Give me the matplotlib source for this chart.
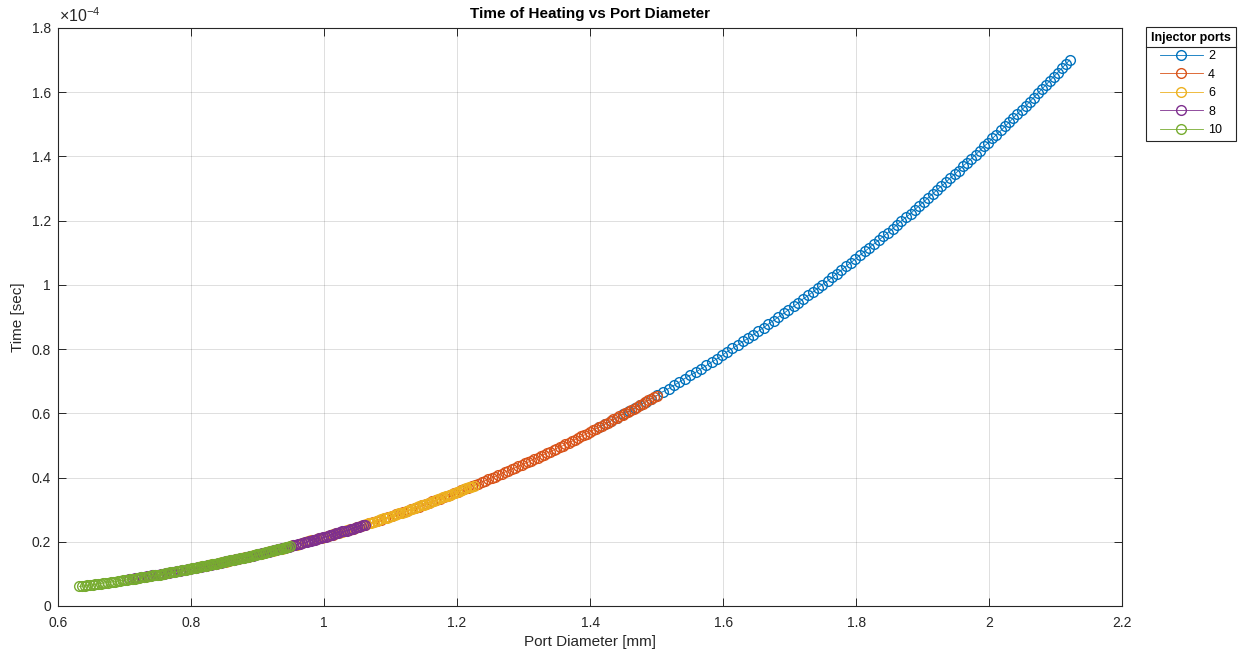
import matplotlib
matplotlib.use('Agg')
import matplotlib.pyplot as plt
from matplotlib.lines import Line2D
from matplotlib.ticker import FuncFormatter

# port diameter [mm] and time of heating [sec x 1e-4] for each number of injector ports
ports = [2, 4, 6, 8, 10]

d_2 = [1.414, 1.423, 1.432, 1.441, 1.449, 1.458, 1.467, 1.475, 1.484, 1.492, 1.501, 1.509, 1.518, 1.526, 1.534, 1.542, 1.550, 1.559, 1.567, 1.575,
       1.583, 1.591, 1.599, 1.606, 1.614, 1.622, 1.630, 1.638, 1.645, 1.653, 1.661, 1.668, 1.676, 1.683, 1.691, 1.698, 1.706, 1.713, 1.720, 1.728,
       1.735, 1.742, 1.749, 1.757, 1.764, 1.771, 1.778, 1.785, 1.792, 1.799, 1.806, 1.813, 1.820, 1.827, 1.834, 1.841, 1.848, 1.855, 1.861, 1.868,
       1.875, 1.882, 1.888, 1.895, 1.902, 1.908, 1.915, 1.921, 1.928, 1.935, 1.941, 1.948, 1.954, 1.960, 1.967, 1.973, 1.980, 1.986, 1.992, 1.999,
       2.005, 2.011, 2.018, 2.024, 2.030, 2.036, 2.042, 2.049, 2.055, 2.061, 2.067, 2.073, 2.079, 2.085, 2.091, 2.097, 2.103, 2.109, 2.115, 2.121]
t_2 = [0.557, 0.567, 0.577, 0.587, 0.597, 0.606, 0.616, 0.626, 0.636, 0.646, 0.656, 0.667, 0.677, 0.687, 0.697, 0.708, 0.718, 0.728, 0.739, 0.749,
       0.760, 0.770, 0.781, 0.792, 0.802, 0.813, 0.824, 0.834, 0.845, 0.856, 0.867, 0.878, 0.889, 0.900, 0.911, 0.922, 0.933, 0.944, 0.956, 0.967,
       0.978, 0.989, 1.001, 1.012, 1.023, 1.035, 1.046, 1.058, 1.069, 1.081, 1.093, 1.104, 1.116, 1.128, 1.139, 1.151, 1.163, 1.175, 1.187, 1.199,
       1.211, 1.222, 1.234, 1.247, 1.259, 1.271, 1.283, 1.295, 1.307, 1.319, 1.332, 1.344, 1.356, 1.369, 1.381, 1.393, 1.406, 1.418, 1.431, 1.443,
       1.456, 1.468, 1.481, 1.494, 1.506, 1.519, 1.532, 1.545, 1.557, 1.570, 1.583, 1.596, 1.609, 1.622, 1.635, 1.648, 1.661, 1.674, 1.687, 1.700]

d_4 = [1.000, 1.006, 1.013, 1.019, 1.025, 1.031, 1.037, 1.043, 1.049, 1.055, 1.061, 1.067, 1.073, 1.079, 1.085, 1.091, 1.096, 1.102, 1.108, 1.114,
       1.119, 1.125, 1.130, 1.136, 1.142, 1.147, 1.153, 1.158, 1.163, 1.169, 1.174, 1.180, 1.185, 1.190, 1.196, 1.201, 1.206, 1.211, 1.216, 1.222,
       1.227, 1.232, 1.237, 1.242, 1.247, 1.252, 1.257, 1.262, 1.267, 1.272, 1.277, 1.282, 1.287, 1.292, 1.297, 1.302, 1.307, 1.311, 1.316, 1.321,
       1.326, 1.330, 1.335, 1.340, 1.345, 1.349, 1.354, 1.359, 1.363, 1.368, 1.373, 1.377, 1.382, 1.386, 1.391, 1.395, 1.400, 1.404, 1.409, 1.413,
       1.418, 1.422, 1.427, 1.431, 1.435, 1.440, 1.444, 1.449, 1.453, 1.457, 1.462, 1.466, 1.470, 1.475, 1.479, 1.483, 1.487, 1.492, 1.496, 1.500]
t_4 = [0.215, 0.219, 0.222, 0.226, 0.230, 0.234, 0.238, 0.241, 0.245, 0.249, 0.253, 0.257, 0.261, 0.265, 0.269, 0.273, 0.277, 0.281, 0.285, 0.289,
       0.293, 0.297, 0.301, 0.305, 0.309, 0.313, 0.318, 0.322, 0.326, 0.330, 0.334, 0.338, 0.343, 0.347, 0.351, 0.355, 0.360, 0.364, 0.368, 0.373,
       0.377, 0.381, 0.386, 0.390, 0.395, 0.399, 0.403, 0.408, 0.412, 0.417, 0.421, 0.426, 0.430, 0.435, 0.439, 0.444, 0.448, 0.453, 0.458, 0.462,
       0.467, 0.471, 0.476, 0.481, 0.485, 0.490, 0.495, 0.499, 0.504, 0.509, 0.513, 0.518, 0.523, 0.528, 0.532, 0.537, 0.542, 0.547, 0.552, 0.556,
       0.561, 0.566, 0.571, 0.576, 0.581, 0.586, 0.591, 0.596, 0.600, 0.605, 0.610, 0.615, 0.620, 0.625, 0.630, 0.635, 0.640, 0.645, 0.650, 0.655]

d_6 = [0.816, 0.822, 0.827, 0.832, 0.837, 0.842, 0.847, 0.852, 0.857, 0.862, 0.867, 0.871, 0.876, 0.881, 0.886, 0.890, 0.895, 0.900, 0.905, 0.909,
       0.914, 0.918, 0.923, 0.928, 0.932, 0.937, 0.941, 0.945, 0.950, 0.954, 0.959, 0.963, 0.967, 0.972, 0.976, 0.980, 0.985, 0.989, 0.993, 0.997,
       1.002, 1.006, 1.010, 1.014, 1.018, 1.022, 1.027, 1.031, 1.035, 1.039, 1.043, 1.047, 1.051, 1.055, 1.059, 1.063, 1.067, 1.071, 1.075, 1.079,
       1.082, 1.086, 1.090, 1.094, 1.098, 1.102, 1.106, 1.109, 1.113, 1.117, 1.121, 1.124, 1.128, 1.132, 1.136, 1.139, 1.143, 1.147, 1.150, 1.154,
       1.158, 1.161, 1.165, 1.168, 1.172, 1.176, 1.179, 1.183, 1.186, 1.190, 1.193, 1.197, 1.200, 1.204, 1.207, 1.211, 1.214, 1.218, 1.221, 1.225]
t_6 = [0.123, 0.125, 0.127, 0.130, 0.132, 0.134, 0.136, 0.138, 0.140, 0.143, 0.145, 0.147, 0.149, 0.152, 0.154, 0.156, 0.159, 0.161, 0.163, 0.165,
       0.168, 0.170, 0.172, 0.175, 0.177, 0.179, 0.182, 0.184, 0.187, 0.189, 0.191, 0.194, 0.196, 0.199, 0.201, 0.204, 0.206, 0.208, 0.211, 0.213,
       0.216, 0.218, 0.221, 0.223, 0.226, 0.228, 0.231, 0.234, 0.236, 0.239, 0.241, 0.244, 0.246, 0.249, 0.252, 0.254, 0.257, 0.259, 0.262, 0.265,
       0.267, 0.270, 0.273, 0.275, 0.278, 0.281, 0.283, 0.286, 0.289, 0.291, 0.294, 0.297, 0.299, 0.302, 0.305, 0.308, 0.310, 0.313, 0.316, 0.319,
       0.321, 0.324, 0.327, 0.330, 0.333, 0.335, 0.338, 0.341, 0.344, 0.347, 0.350, 0.352, 0.355, 0.358, 0.361, 0.364, 0.367, 0.370, 0.372, 0.375]

d_8 = [0.707, 0.712, 0.716, 0.720, 0.725, 0.729, 0.733, 0.738, 0.742, 0.746, 0.750, 0.755, 0.759, 0.763, 0.767, 0.771, 0.775, 0.779, 0.783, 0.787,
       0.791, 0.795, 0.799, 0.803, 0.807, 0.811, 0.815, 0.819, 0.823, 0.826, 0.830, 0.834, 0.838, 0.842, 0.845, 0.849, 0.853, 0.856, 0.860, 0.864,
       0.867, 0.871, 0.875, 0.878, 0.882, 0.885, 0.889, 0.893, 0.896, 0.900, 0.903, 0.907, 0.910, 0.914, 0.917, 0.920, 0.924, 0.927, 0.931, 0.934,
       0.937, 0.941, 0.944, 0.947, 0.951, 0.954, 0.957, 0.961, 0.964, 0.967, 0.971, 0.974, 0.977, 0.980, 0.983, 0.987, 0.990, 0.993, 0.996, 0.999,
       1.003, 1.006, 1.009, 1.012, 1.015, 1.018, 1.021, 1.024, 1.027, 1.030, 1.034, 1.037, 1.040, 1.043, 1.046, 1.049, 1.052, 1.055, 1.058, 1.061]
t_8 = [0.083, 0.084, 0.086, 0.087, 0.089, 0.090, 0.092, 0.093, 0.095, 0.096, 0.098, 0.099, 0.101, 0.102, 0.104, 0.105, 0.107, 0.108, 0.110, 0.111,
       0.113, 0.115, 0.116, 0.118, 0.119, 0.121, 0.122, 0.124, 0.126, 0.127, 0.129, 0.131, 0.132, 0.134, 0.135, 0.137, 0.139, 0.140, 0.142, 0.144,
       0.145, 0.147, 0.149, 0.150, 0.152, 0.154, 0.156, 0.157, 0.159, 0.161, 0.162, 0.164, 0.166, 0.168, 0.169, 0.171, 0.173, 0.175, 0.176, 0.178,
       0.180, 0.182, 0.184, 0.185, 0.187, 0.189, 0.191, 0.193, 0.194, 0.196, 0.198, 0.200, 0.202, 0.203, 0.205, 0.207, 0.209, 0.211, 0.213, 0.215,
       0.216, 0.218, 0.220, 0.222, 0.224, 0.226, 0.228, 0.230, 0.232, 0.233, 0.235, 0.237, 0.239, 0.241, 0.243, 0.245, 0.247, 0.249, 0.251, 0.253]

d_10 = [0.632, 0.636, 0.640, 0.644, 0.648, 0.652, 0.656, 0.660, 0.664, 0.667, 0.671, 0.675, 0.679, 0.682, 0.686, 0.690, 0.693, 0.697, 0.701, 0.704,
        0.708, 0.711, 0.715, 0.718, 0.722, 0.725, 0.729, 0.732, 0.736, 0.739, 0.743, 0.746, 0.749, 0.753, 0.756, 0.759, 0.763, 0.766, 0.769, 0.773,
        0.776, 0.779, 0.782, 0.786, 0.789, 0.792, 0.795, 0.798, 0.802, 0.805, 0.808, 0.811, 0.814, 0.817, 0.820, 0.823, 0.826, 0.829, 0.832, 0.835,
        0.838, 0.841, 0.844, 0.847, 0.850, 0.853, 0.856, 0.859, 0.862, 0.865, 0.868, 0.871, 0.874, 0.877, 0.880, 0.882, 0.885, 0.888, 0.891, 0.894,
        0.897, 0.899, 0.902, 0.905, 0.908, 0.911, 0.913, 0.916, 0.919, 0.922, 0.924, 0.927, 0.930, 0.933, 0.935, 0.938, 0.941, 0.943, 0.946, 0.949]
t_10 = [0.061, 0.062, 0.063, 0.064, 0.065, 0.066, 0.067, 0.069, 0.070, 0.071, 0.072, 0.073, 0.074, 0.075, 0.076, 0.077, 0.079, 0.080, 0.081, 0.082,
        0.083, 0.084, 0.085, 0.087, 0.088, 0.089, 0.090, 0.091, 0.092, 0.094, 0.095, 0.096, 0.097, 0.098, 0.100, 0.101, 0.102, 0.103, 0.105, 0.106,
        0.107, 0.108, 0.109, 0.111, 0.112, 0.113, 0.114, 0.116, 0.117, 0.118, 0.119, 0.121, 0.122, 0.123, 0.125, 0.126, 0.127, 0.128, 0.130, 0.131,
        0.132, 0.134, 0.135, 0.136, 0.138, 0.139, 0.140, 0.142, 0.143, 0.144, 0.146, 0.147, 0.148, 0.150, 0.151, 0.152, 0.154, 0.155, 0.156, 0.158,
        0.159, 0.161, 0.162, 0.163, 0.165, 0.166, 0.168, 0.169, 0.170, 0.172, 0.173, 0.175, 0.176, 0.177, 0.179, 0.180, 0.182, 0.183, 0.185, 0.186]

diameters = [d_2, d_4, d_6, d_8, d_10]
times = [t_2, t_4, t_6, t_8, t_10]

colors = ['#0072BD', '#D95319', '#EDB120', '#7E2F8E', '#77AC30']
axis_gray = '#262626'

plt.rcParams['font.family'] = ['Liberation Sans', 'DejaVu Sans']
plt.rcParams['mathtext.fontset'] = 'custom'
plt.rcParams['mathtext.rm'] = 'Liberation Sans'


def plot_heating():
  fig = plt.figure(figsize=(12.38, 6.54), dpi=100)
  ax = fig.add_axes([0.0469, 0.0734, 0.8595, 0.8838])

  for n, d, t, c in zip(ports, diameters, times, colors):
    ax.plot(d, t, '-o', color=c, mfc='none', ms=7, mew=1.0, lw=0.6, label=str(n))

  ax.set_xlim(0.6, 2.2)
  ax.set_ylim(0, 1.8)
  ax.set_xticks([0.6, 0.8, 1.0, 1.2, 1.4, 1.6, 1.8, 2.0, 2.2])
  ax.set_yticks([0, 0.2, 0.4, 0.6, 0.8, 1.0, 1.2, 1.4, 1.6, 1.8])
  fmt = FuncFormatter(lambda v, pos: '%g' % round(v, 2))
  ax.xaxis.set_major_formatter(fmt)
  ax.yaxis.set_major_formatter(fmt)

  ax.grid(True, color=axis_gray, alpha=0.15, lw=0.7)
  ax.set_axisbelow(True)
  for s in ax.spines.values():
    s.set_color(axis_gray)
    s.set_linewidth(0.8)
  ax.tick_params(direction='in', top=True, right=True, length=6, width=0.7,
                 color=axis_gray, labelcolor=axis_gray, labelsize=10)
  ax.tick_params(axis='x', pad=7)
  ax.tick_params(axis='y', pad=5)

  ax.set_title('Time of Heating vs Port Diameter', fontsize=11, fontweight='bold', pad=7)
  ax.set_xlabel('Port Diameter [mm]', fontsize=11, color=axis_gray, labelpad=4)
  ax.set_ylabel('Time [sec]', fontsize=11, color=axis_gray, labelpad=5)
  ax.text(0.001, 1.005, r'$\times\mathregular{10^{-4}}$', transform=ax.transAxes,
          fontsize=11.5, color=axis_gray, ha='left', va='bottom')

  leg = ax.legend(title='Injector ports', loc='upper left', bbox_to_anchor=(1.0226, 1.002),
                  borderaxespad=0, fontsize=9, title_fontsize=9, handlelength=3.4,
                  handletextpad=0.45, labelspacing=0.52, fancybox=False, framealpha=1,
                  edgecolor=axis_gray, borderpad=0.4)
  leg.get_title().set_fontweight('bold')
  leg.get_frame().set_linewidth(0.8)

  # separator between the legend title and the entries
  fig.canvas.draw()
  inv = fig.transFigure.inverted()
  lb = leg.get_window_extent()
  tb = leg.get_title().get_window_extent()
  fb = leg.get_texts()[0].get_window_extent()
  y = (tb.y0 + fb.y1) / 2.0
  (x0, y0), (x1, _) = inv.transform([(lb.x0, y), (lb.x1, y)])
  fig.add_artist(Line2D([x0, x1], [y0, y0], color=axis_gray, lw=0.8))

  fig.savefig('out.png', dpi=100)


def main():
  plot_heating()


if __name__ == '__main__':
  main()
